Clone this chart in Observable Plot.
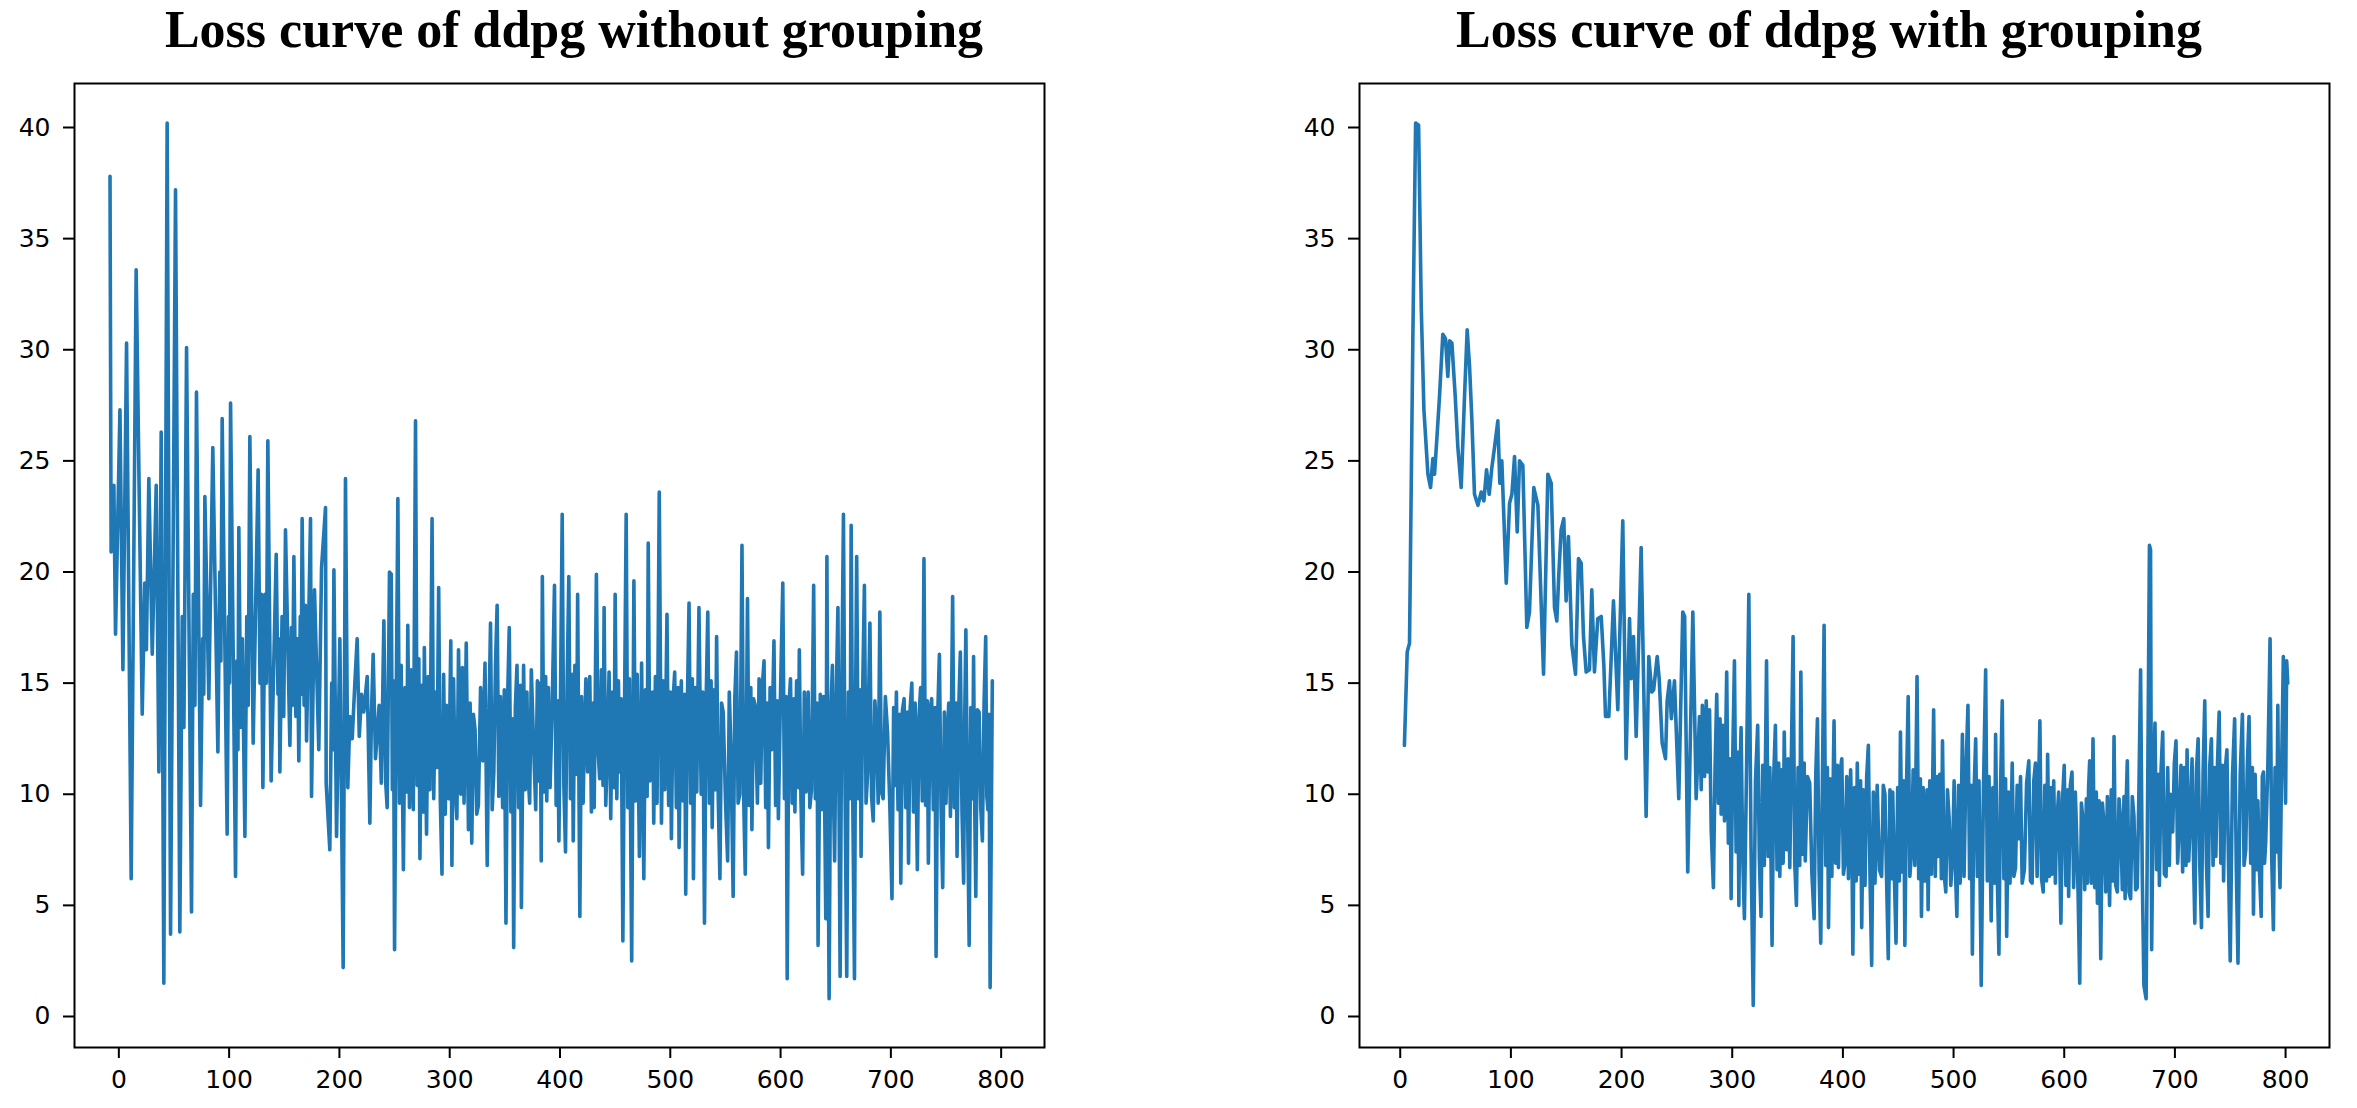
<!DOCTYPE html>
<html>
<head>
<meta charset="utf-8">
<script src="https://cdn.jsdelivr.net/npm/d3@7"></script>
<script src="https://cdn.jsdelivr.net/npm/@observablehq/plot@0.6"></script>
<style>
  html, body { margin: 0; padding: 0; background: #fff; }
  #wrap { position: relative; width: 2357px; height: 1108px; background: #fff; overflow: hidden; }
  .title { position: absolute; top: 4px; width: 1000px; text-align: center; font-family: "Liberation Serif", "Times New Roman", serif; font-weight: bold; font-size: 52px; line-height: 52px; color: #000; white-space: nowrap; }
  .panel { position: absolute; top: 0; }
</style>
</head>
<body>
<div id="wrap">
  <div class="title" id="t1" style="left:74px"></div>
  <div class="title" id="t2" style="left:1329px"></div>
  <div class="panel" id="p1" style="left:0px"></div>
  <div class="panel" id="p2" style="left:1290px"></div>
</div>
<script>
const titles = ["Loss curve of ddpg without grouping", "Loss curve of ddpg with grouping"];
const xTicks = [0, 100, 200, 300, 400, 500, 600, 700, 800];
const yTicks = [0, 5, 10, 15, 20, 25, 30, 35, 40];

// [episode, loss] (without grouping)
const lossWithout = [
[-8,37.8],[-7,20.9],[-4.5,23.9],[-3,17.2],[1,27.3],[3.7,15.6],[7,30.3],[11.2,6.2],[15.7,33.6],[21.2,13.6],
[23.5,19.5],[25,16.5],[27.2,24.2],[30.3,16.3],[33.9,23.9],[36.3,11.0],[38.4,26.3],[40.8,1.5],[43.8,40.2],[46.9,3.7],
[51.4,37.2],[55.3,3.8],[57.5,18],[59,13],[61.4,30.1],[65.9,4.7],[67.5,19],[69,14],[70.4,28.1],[74.1,9.5],
[76,17],[77,14.5],[78,23.4],[81.6,14.3],[85.2,25.6],[89.8,11.9],[91.5,20],[92.5,16],[93.7,26.9],[98.2,8.2],
[99.5,18],[100.3,15],[101.3,27.6],[105.8,6.3],[107,16],[108,12],[108.8,22.0],[110.5,13],[112,17],[114.3,8.1],
[116,18],[117.3,14],[118.8,26.1],[121.8,12.3],[126.3,24.6],[128,15],[129.3,19],[130.6,10.3],[132.5,19],[133.8,15],
[135.1,25.9],[138.1,10.6],[142.7,20.8],[144.3,14.5],[145.2,17],[146,11.0],[148,18],[149.5,13.5],[151.1,21.9],[155.1,12.2],
[156.5,17.5],[157.5,14],[158.7,20.7],[160.5,13.5],[162,17],[163.2,11.5],[164.5,18],[165.3,14.5],[166.2,22.4],[168,14],
[169.2,18.5],[170.2,12.4],[173.8,22.4],[174.7,9.9],[177.4,19.2],[181.3,12.0],[183.8,20.2],[187.4,22.9],[188,10.5],[191.3,7.5],
[193,15],[194,12],[195,20.1],[197.4,8.1],
[200.4,17.0],[203.4,2.2],[205.5,24.2],[207.6,10.3],[209.5,13.5],[211.6,12.5],[214,15],[216.1,17.0],[218,12.6],[220,14.5],
[222.1,13.7],[225.2,15.3],[227.6,8.7],[229,13.5],[230.6,16.3],[232.7,11.6],[236,14.0],[238,10.5],[240.3,17.8],[242,10.5],[243.3,9.4],
[245.4,20.0],
[247,19.9],[248,10.2],[249,15.1],[250,3.0],[251.5,14.2],[253,23.3],[254.5,9.6],[256,15.8],[258,6.6],[259.5,14.8],
[261,10.1],[262,17.6],[263.5,9.4],[265,15.6],[267,9.3],[269,26.8],[270.5,10.4],[272,16.1],[273,7.1],[274.5,14.9],
[276,9.2],[277,16.6],[279,8.2],[280.5,15.3],[282,10.2],[284,22.4],[285.5,9.8],[287,14.6],[288.5,11.2],[290,19.3],
[291.5,9.7],[293,6.4],[294.5,15.4],[296,9.1],[297,14],[299,9.8],[301,16.9],[302,6.8],[303.5,15.2],[305,10.3],
[306.5,8.9],[308,16.5],[310,10],[311.5,15.7],[313,9.6],[315,16.8],[317,8.4],[318.5,14.1],[320,7.8],[321.5,13.6],
[323,12.9],[324.5,9.1],[326,9.5],[328,14.8],[330,11.5],[332,15.9],[334,6.8],[335.5,13.2],[337,17.7],[338.5,9.3],
[340,11],[341.5,15.8],[343,18.5],[344.5,9.9],[346,14.4],[348,9.4],[349.5,14.7],[351,4.2],[352.5,14.3],[354,17.5],
[355.5,9.2],[357,13.4],[358,3.1],[359.5,13.9],[361,15.8],[362.5,9.4],[364,14.9],[365,4.9],[367,15.8],[368.5,10.2],
[370,14.6],[371,11],[372.5,9.6],[374,15.6],[376,12.3],[378,9.3],[379.5,15.1],[381,10.6],[382,15.0],[383,7.0],
[384,19.8],[385.5,10.1],[387,15.3],[388,9.7],[389.5,14.8],[391,10.3],[393,14.1],[395,19.4],[396.5,9.5],[398,14.2],
[399,7.9],[400.5,14.6],[402,22.6],[403.5,10.4],[405,7.4],[406.5,15.1],[408,19.8],[409.5,9.8],[411,15.4],[412,7.9],
[413.5,15.8],[415,10.9],[416,19.0],[418,4.5],[419.5,14.4],[421,9.6],[422,12.5],[423.5,15.2],[425,11],[427,15.3],
[428.5,9.2],[430,14.1],[431,9.4],[433,19.9],[434.5,12],[436,10.7],[437.5,15.6],[439,10.4],[440,18.4],[441.5,9.5],
[443,12],[444.5,15.5],[446,8.9],[447.5,14.6],[449,10.3],[450,19.0],[451.5,9.8],[453,15.1],[454,11],[455.5,14.3],
[457,3.4],[458.5,13.8],[460,22.6],[461.5,9.4],[463,15.2],[465,2.5],[467,19.6],[468.5,9.7],[470,15.4],[472,7.2],
[474,15.9],[476,6.2],[477.5,14.7],[479,9.9],[480,21.3],[481.5,10.6],[483,11],[484,14.6],[485,8.7],[486.5,15.3],
[488,9.6],[490,23.6],[492,8.7],[493.5,15.1],[495,10.2],[497,18.1],[498.5,9.5],[500,14.6],[501,8.0],[502.5,14.2],
[504,15.5],[505.5,9.4],[507,14.8],[508,7.6],[510,15.1],[511.5,9.7],[513,14.5],[514,5.5],[515.5,14.1],[517,18.6],
[518.5,9.6],[520,15.2],[521,6.2],[522.5,14.8],[524,10.1],[526,18.4],[528,10],[529.5,14.6],[531,4.2],[532.5,14.2],
[534,18.2],[535.5,9.6],[537,15.1],[538,8.5],[539.5,14.7],[541,10.2],[542,17.1],[543.5,9.8],[545,6.2],[546.5,14.1],
[548,13.7],[550,9.8],[552,7.0],[553.5,14.6],[555,12],[557,5.4],[558.5,14.3],[560,16.4],[561.5,9.6],[563,10],
[564,14.9],[565,21.2],[566.5,9.9],[568,6.4],[570,18.8],[571.5,9.5],[573,14.8],[574,8.4],[575.5,14.3],[577,14.0],
[579,9.6],[580.5,15.2],[582,10.5],[583.5,14.9],[585,16.0],[586.5,9.4],[588,14.1],[589,7.6],[590.5,14.8],[592,12],
[594,16.9],[595.5,9.5],[597,14.2],[598,8.9],[600,14.7],[602,19.5],[603.5,9.8],[605,14.4],[606,1.7],[607.5,13.9],
[609,15.2],[610.5,9.6],[612,14.3],[613,9.2],[614.5,15.1],[616,10.3],[617,16.5],[618.5,9.7],[620,6.4],[621.5,14.6],
[623,10.1],[625,14.6],[626.5,9.4],[628,10.2],[630,19.4],[631.5,9.8],[633,14.1],[634,3.2],[636,14.5],[637.5,9.3],
[639,14.4],[641,4.4],[642,20.7],[643,9.8],[644,0.8],[645.5,13.6],[647,15.8],[648,9.9],[649,7.0],[650.5,14.5],
[652,18.4],[653,9.6],[654,1.8],[655.5,14.8],[657,22.6],[658.5,9.9],[660,1.8],[661.5,14.6],[663,9.8],[664,22.1],
[665.5,9.5],[667,1.7],[668,13.9],[669,20.7],[670.5,9.8],[672,14.7],[673,7.2],[674.5,14.9],[676,19.4],[677.5,9.6],
[679,11.0],[680,14.8],[681,17.7],[682.5,9.9],[684,8.8],[685.5,14.2],[687,13],[688.5,9.6],[690,18.2],[691.5,10.1],
[693,9.8],[695,14.4],[697,12.8],[699,9.6],[701,5.3],[702.5,13.9],[704,10.4],[705,14.6],[706.5,9.3],[708,13.6],
[709,6.0],[710.5,13.8],[712,14.3],[713.5,9.4],[715,13.7],[716,6.9],[717.5,13.9],[719,15.0],[720.5,9.2],[722,14.1],
[724,6.6],[725.5,13.5],[727,14.8],[728.5,9.7],[730,20.6],[731.5,9.5],[733,14.2],[734,6.9],[735.5,13.8],[737,14.3],
[738.5,9.3],[740,13.9],[741,2.7],[742.5,13.6],[744,16.3],[745.5,9.4],[747,5.8],[748.5,13.7],[750,9.6],[751,12.5],
[752.5,14.1],[754,9.0],[756,18.9],[757.5,9.4],[759,14.1],[760,7.2],[761.5,13.8],[763,16.4],[764.5,9.2],[766,6.0],
[767,13.6],[768,17.4],[769.5,9.5],[771,3.2],[772.5,13.9],[774,9.8],[775,16.2],[776,9.6],[777,5.4],[778.5,13.8],
[780,13.7],[781.5,9.4],[783,7.9],[784.5,14.1],[786,17.1],[787,9.9],[788,9.3],[789,13.6],[790,1.3],[792,15.1]
];

// [episode, loss] (with grouping)
const lossWith = [
[3.8,12.2],[6.3,16.4],[8.4,16.8],[11.4,30.5],[13.9,40.2],[16.6,40.1],[19,31.9],[21.4,27.3],[25,24.4],[27.4,23.8],
[29.5,25.1],[31,24.4],[33.1,26.0],[35.5,27.9],[38.5,30.7],[40.9,30.5],[43,28.8],[44.6,30.4],[46.7,30.3],[49.7,27.9],
[52.1,25.6],[55.1,23.8],[58.1,27.9],[60.5,30.9],[62.6,29.3],[64.7,26.9],[67.1,23.5],[70.2,23.0],[73.2,23.6],[75.6,23.2],
[78,24.6],[80.4,23.5],[82.8,24.7],[85.2,25.6],[88.2,26.8],[90,24.0],[91.8,25.0],[95.8,19.5],[98.8,23.1],[100.9,23.5],
[103.3,25.2],[105.7,21.8],[107.8,25.0],[110.8,24.8],[114.4,17.5],[116.8,18.2],[120.7,23.8],[124.4,23.0],[129.5,15.4],[133.4,24.4],
[136.4,24.0],[139.4,18.4],[141.5,17.8],[143.3,19.9],[145.4,21.9],[147.8,22.4],[149.9,18.7],[152,21.6],[155.1,16.7],[158.4,15.4],
[161.1,20.6],[163.5,20.4],[165.6,17.1],[168,15.5],[171,15.6],[173.1,19.2],[175.5,15.5],[178.5,17.9],[181.6,18.0],[184,15.8],
[185.5,13.5],[188.5,13.5],[192.7,18.7],[196.6,13.8],[201.1,22.3],[204.1,11.6],[207.2,17.9],[208.7,15.2],[210.8,17.1],[213.2,12.6],
[217.7,21.1],[222.2,9.0],[224.6,16.2],[227.3,14.6],[229,14.7],[232.2,16.2],[234,15.2],[236.7,12.3],[239.7,11.6],[241.2,14.2],
[243.3,15.1],[245,13.4],[247.8,15.1],[251.7,9.8],[255.3,18.2],[257,18.0],[259.8,6.5],[264.4,18.2],[267.4,9.8],[270.4,13.5],
[272,10.2],[273,14],[275,10.8],[276.5,14.2],[278,11],[279.5,13.8],[281,8.4],[283,5.8],[284.5,11.2],[286,14.5],
[287.5,9.6],[289,13.4],[290,9.1],[291.5,13.1],[293,8.8],[295,15.5],[296.5,7.8],[298,11.6],[299,5.3],[300.5,11.8],
[302,16.0],[303.5,7.4],[305,11.9],[306,5.0],[307,10.8],[308,13.0],[309.5,7.2],[311,4.4],[313,11.4],[315,19.0],
[317,7.6],[319,0.5],[321,10.6],[323,13.1],[324.5,7.1],[326,4.5],[327.5,11.3],[329,6.8],[331,16.0],[332.5,7.2],
[334,11.2],[336,3.2],[337.5,10.8],[339,13.1],[340.5,6.6],[342,11.4],[343,6.3],[344.5,11.1],[346,6.9],[347,12.8],
[348,9.5],[349,7.5],[350.5,11.6],[352,6.7],[353.5,11.9],[355,17.1],[356.5,6.9],[358,5.0],[359.5,11.2],[361,6.8],
[362,15.5],[363.5,7.3],[365,11.4],[366,7.0],[368,10.8],[370,10.5],[372,6.4],[374,4.4],[375.5,10.9],[377,13.4],
[378.5,6.5],[380,3.3],[381.5,10.6],[383,17.6],[384.5,6.8],[386,11.2],[387,4.0],[388.5,10.7],[390,6.3],[392,13.3],
[393.5,6.9],[395,11.3],[396,6.7],[397.5,11.0],[399,11.6],[400.5,6.4],[402,7.0],[403.5,10.8],[405,6.2],[407,11.1],
[408,8.5],[409,2.8],[410.5,10.3],[412,6.1],[413,11.4],[414.5,6.4],[416,10.6],[417,4.0],[418.5,10.2],[420,5.9],
[421.5,10.8],[423,12.2],[424.5,6.3],[426,2.3],[427.5,10.1],[429,6.0],[431,10.4],[433,6.6],[435,6.3],[436.5,10.4],
[438,10.0],[439.5,6.1],[441,2.6],[442.5,10.2],[444,6.2],[445,10.1],[446.5,6.4],[448,3.3],[449.5,10.3],[451,6.1],
[452,12.8],[453.5,6.5],[455,10.6],[456,3.2],[457.5,10.4],[459,14.4],[460.5,6.3],[462,7.4],[463.5,11.1],[465,6.8],
[467,15.3],[468.5,6.2],[470,10.7],[471,4.5],[472.5,10.3],[474,6.1],[475,8.8],[476,10.2],[477,4.8],[478.5,10.6],
[480,6.4],[482,13.8],[483.5,6.3],[485,10.8],[486,7.2],[487.5,10.9],[489,6.2],[490,12.4],[491.5,6.4],[493,5.6],
[494.5,10.2],[496,8.9],[497.5,5.9],[499,7.0],[500.5,10.6],[502,6.1],[503,4.5],[504.5,10.4],[506,6.0],[508,12.7],
[509.5,6.3],[511,10.7],[513,14.0],[514.5,6.2],[516,10.4],[517,2.8],[518.5,10.1],[520,12.5],[521.5,6.3],[523,10.6],
[525,1.4],[527,10.2],[529,15.6],[530.5,6.1],[532,10.8],[534,4.3],[535.5,10.3],[537,6.0],[538,12.7],[539.5,6.3],
[541,2.8],[542.5,10.4],[544,14.2],[545.5,6.2],[547,10.7],[548,3.6],[549.5,10.1],[551,6.0],[553,11.4],[554.5,6.3],
[556,6.7],[557.5,10.4],[559,8.0],[560.5,10.8],[562,6.0],[564,6.6],[566,10.5],[568,11.5],[569.5,6.1],[571,6.0],
[572.5,10.6],[574,11.4],[575.5,6.3],[577,10.8],[578,13.3],[579.5,6.2],[581,5.6],[582.5,10.4],[584,6.1],[585,11.8],
[586.5,6.3],[588,10.3],[589,6.4],[590.5,10.6],[592,6.0],[593,8.5],[595,10.1],[597,4.2],[598.5,9.8],[600,11.3],
[601.5,5.9],[603,10.2],[604,5.4],[605.5,10.4],[607,11.0],[608.5,5.8],[610,10.1],[611,8.5],[612.5,5.6],[614,1.5],
[615.5,9.6],[617,8.8],[618.5,5.7],[620,9.8],[621,6.0],[622,10.3],[623,11.5],[624.5,6.0],[626,12.5],[627.5,5.8],
[629,10.1],[630,5.1],[631.5,9.7],[633,2.6],[634.5,9.6],[636,8.6],[637.5,5.6],[639,9.9],[641,5.0],[642.5,10.2],
[644,6.1],[645,12.6],[646.5,5.9],[648,5.6],[649.5,9.8],[651,8.8],[652.5,5.7],[654,9.9],[655,5.3],[656,9.7],
[657,11.5],[658.5,5.6],[660,5.3],[661.5,9.9],[663,9.0],[664.5,5.7],[666,5.8],[667.5,10.2],[669,15.6],[670.5,6.4],
[672,1.4],[674,0.8],[675.5,10.8],[677,21.2],[678,21.0],[679,3.0],[680.5,10.4],[682,13.2],[683.5,6.6],[685,10.9],
[686,5.9],[687.5,11.1],[689,12.8],[690.5,6.4],[692,6.3],[693.5,11.2],[695,6.8],[696,10.0],[698,8.3],[699.5,11.4],
[701,12.4],[702.5,6.9],[704,8.8],[705.5,11.3],[707,6.5],[708.5,11.2],[710,6.8],[711,12.0],[712.5,7.0],[714,9.0],
[715.5,11.6],[717,6.6],[718,4.2],[719.5,11.1],[721,12.5],[722.5,6.8],[724,4.0],[725.5,11.0],[727,14.2],[728.5,6.9],
[730,4.5],[731.5,11.3],[733,12.5],[734.5,6.8],[736,11.2],[737,7.2],[738.5,11.4],[740,13.7],[741.5,6.9],[743,11.3],
[744,6.1],[745.5,11.1],[747,12.0],[748.5,6.6],[750,2.5],[752,10.8],[754,13.4],[755.5,6.6],[757,2.4],[759,10.9],
[761,13.6],[762.5,6.8],[764,7.5],[765.5,11.4],[767,13.5],[768.5,6.9],[770,11.2],[771,4.6],[772.5,10.9],[774,6.6],
[775,9.7],[776.5,6.4],[778,4.5],[779,10.8],[780,11.0],[781,6.9],[782,7.8],[784,11.3],[786,17.0],[787.5,7.1],
[789,3.9],[790.5,11.2],[792,7.4],[793,14.0],[794,7.8],[795,5.8],[796.5,11.4],[798,16.2],[800,9.6],[801,16],
[802,15.0]
];

function panel(data, width, mL, mR, xDomain) {
  return Plot.plot({
    width, height: 1108,
    marginLeft: mL, marginRight: mR, marginTop: 83, marginBottom: 61,
    style: { fontFamily: "DejaVu Sans", fontSize: "25px", color: "#000", background: "transparent", overflow: "visible" },
    x: { domain: xDomain },
    y: { domain: [-1.395, 41.98] },
    marks: [
      Plot.axisX({ ticks: xTicks, tickSize: 11, tickPadding: 12, strokeWidth: 2, label: null, tickFormat: d => String(d) }),
      Plot.axisY({ ticks: yTicks, tickSize: 11, tickPadding: 13, strokeWidth: 2, label: null, tickFormat: d => String(d) }),
      Plot.line(data, { x: d => d[0], y: d => d[1], stroke: "#1f77b4", strokeWidth: 3.6, strokeLinejoin: "round" }),
      Plot.frame({ stroke: "#000", strokeWidth: 2 })
    ]
  });
}

document.getElementById("t1").textContent = titles[0];
document.getElementById("t2").textContent = titles[1];
document.getElementById("p1").appendChild(panel(lossWithout, 1100, 74, 56, [-40.2, 839.3]));
document.getElementById("p2").appendChild(panel(lossWith, 1067, 69, 28, [-36.8, 839.7]));
</script>
</body>
</html>
